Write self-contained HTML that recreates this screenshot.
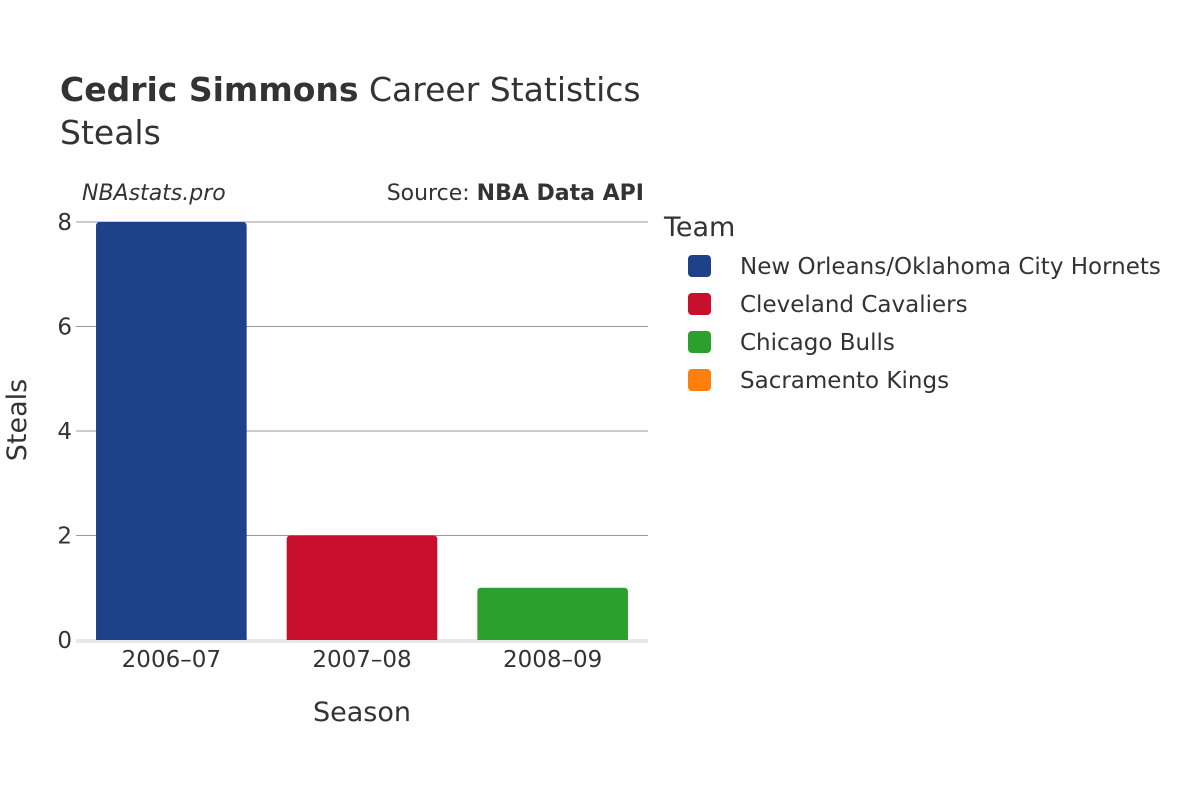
<!DOCTYPE html>
<html><head><meta charset="utf-8"><style>
body{margin:0;background:#fff;}
svg{font-family:"DejaVu Sans","Liberation Sans",sans-serif;}
</style></head><body>
<svg id="chart" width="1200" height="800">
<text x="60" y="101" font-size="33" fill="#333"><tspan font-weight="bold">Cedric Simmons</tspan> Career Statistics</text>
<text x="60" y="144" font-size="33" fill="#333">Steals</text>
<text x="82" y="200" font-size="22" font-style="italic" fill="#333">NBAstats.pro</text>
<text x="644" y="200" font-size="22" fill="#333" text-anchor="end">Source: <tspan font-weight="bold">NBA Data API</tspan></text>
<g id="grid"></g>
<g id="bars"></g>
<g id="xt"></g>
<g id="yt"></g>
<text x="362" y="721" font-size="27" fill="#333" text-anchor="middle">Season</text>
<text transform="translate(26,420) rotate(-90)" font-size="27" fill="#333" text-anchor="middle">Steals</text>
<text x="664" y="236" font-size="27" fill="#333">Team</text>
<g id="legend"></g>
</svg>
<script>
const seasons=["2006–07","2007–08","2008–09"];
const steals=[8,2,1];
const barColors=["#1d428a","#c8102e","#2ca02c"];
const teams=["New Orleans/Oklahoma City Hornets","Cleveland Cavaliers","Chicago Bulls","Sacramento Kings"];
const teamColors=["#1d428a","#c8102e","#2ca02c","#ff7f0e"];
const yTicks=[0,2,4,6,8];
const NS="http://www.w3.org/2000/svg";
const x0=76,x1=648,yTop=222,yBot=640,yMax=8;
const y=v=>yBot-(v/yMax)*(yBot-yTop);
const band=(x1-x0)/seasons.length;
function mk(tag,attrs,parent){const e=document.createElementNS(NS,tag);for(const k in attrs)e.setAttribute(k,attrs[k]);document.getElementById(parent).appendChild(e);return e;}
yTicks.forEach(t=>{
  if(t>0){const l=mk("line",{x1:x0,x2:x1,y1:y(t),y2:y(t),stroke:"#999","stroke-width":1},"grid");
  
  }
  const tx=mk("text",{x:x0-4,y:y(t)+8,"font-size":23,fill:"#333","text-anchor":"end"},"yt");tx.textContent=t;
  
  
});
const zl=mk("line",{x1:x0,x2:x1,y1:yBot+1,y2:yBot+1,stroke:"#e8e8e8","stroke-width":4},"grid");


seasons.forEach((s,i)=>{
  const bw=band*0.79,bx=x0+band*i+(band-bw)/2;
  const r=mk("path",{d:`M${bx},${yBot} V${y(steals[i])+4} Q${bx},${y(steals[i])} ${bx+4},${y(steals[i])} H${bx+bw-4} Q${bx+bw},${y(steals[i])} ${bx+bw},${y(steals[i])+4} V${yBot} Z`,fill:barColors[i]},"bars");
  
  
  const tx=mk("text",{x:x0+band*(i+0.5),y:667,"font-size":23,fill:"#333","text-anchor":"middle"},"xt");tx.textContent=s;
  
  
});
teams.forEach((t,i)=>{
  const cy=266+i*38;
  const r=mk("rect",{x:688,y:cy-11,width:23,height:22,rx:4,fill:teamColors[i]},"legend");
  
  
  const tx=mk("text",{x:740,y:cy+8,"font-size":23,fill:"#333"},"legend");tx.textContent=t;
  
  
});
</script>
</body></html>
